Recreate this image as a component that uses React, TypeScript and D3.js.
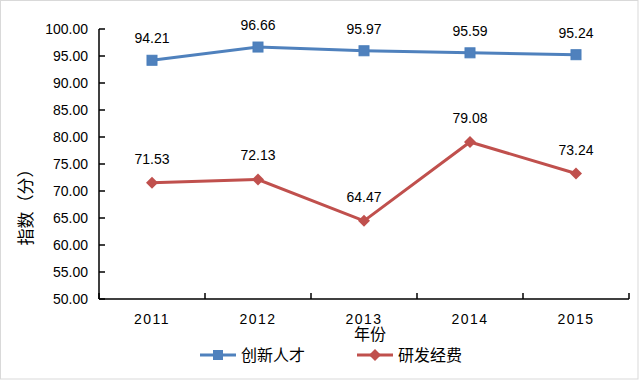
import React from "react";
import * as d3 from "d3";

const years = ["2011", "2012", "2013", "2014", "2015"];
const talent = [94.21, 96.66, 95.97, 95.59, 95.24];
const rnd = [71.53, 72.13, 64.47, 79.08, 73.24];
const yTicks = [50, 55, 60, 65, 70, 75, 80, 85, 90, 95, 100];
const seriesNames = ["创新人才", "研发经费"];

const W = 639, H = 380;
const left = 99, right = 629, top = 29, bottom = 299;
const font = "'Liberation Sans', Arial, 'Noto Sans CJK SC', sans-serif";
const cjk = "'Noto Sans CJK SC', 'Liberation Sans', sans-serif";
const blue = "#4F81BD", red = "#C0504D";

export default function App() {
  const x = d3.scaleBand<string>().domain(years).range([left, right]);
  const y = d3.scaleLinear().domain([50, 100]).range([bottom, top]);
  const cx = (d: string) => (x(d) as number) + x.bandwidth() / 2;
  const line = d3.line<number>().x((_, i) => cx(years[i])).y((v) => y(v));
  const boundaries = years.map((d) => x(d) as number).concat([right]);

  return (
    <svg width={W} height={H} style={{ position: "absolute", left: 0, top: 0, background: "#fff" }}>
      <rect x={0.5} y={0.5} width={W - 1.5} height={H - 1.5} fill="#fff" stroke="#d9d9d9" />
      {/* y axis */}
      <line x1={left} x2={left} y1={top} y2={bottom} stroke="#000" strokeWidth={1.5} />
      {yTicks.map((t) => (
        <g key={t}>
          <line x1={left} x2={left + 6} y1={y(t)} y2={y(t)} stroke="#000" strokeWidth={1.5} />
          <text x={left - 11} y={y(t)} dy="0.35em" textAnchor="end" fontFamily={font} fontSize={14} fill="#000">
            {t.toFixed(2)}
          </text>
        </g>
      ))}
      {/* x axis */}
      <line x1={left} x2={right} y1={bottom} y2={bottom} stroke="#000" strokeWidth={1.5} />
      {boundaries.map((b, i) => (
        <line key={i} x1={b} x2={b} y1={bottom} y2={bottom - 6} stroke="#000" strokeWidth={1.5} />
      ))}
      {years.map((d) => (
        <text key={d} x={cx(d)} y={324} textAnchor="middle" fontFamily={font} fontSize={14} letterSpacing={1.5} fill="#000">
          {d}
        </text>
      ))}
      <text x={370} y={340} textAnchor="middle" fontFamily={cjk} fontSize={16} fill="#000">年份</text>
      <text transform={`translate(32,203) rotate(-90)`} textAnchor="middle" fontFamily={cjk} fontSize={17} fill="#000">
        指数（分）
      </text>
      {/* series */}
      <path d={line(talent) || ""} fill="none" stroke={blue} strokeWidth={3} />
      <path d={line(rnd) || ""} fill="none" stroke={red} strokeWidth={3} />
      {talent.map((v, i) => (
        <g key={"t" + i}>
          <rect x={cx(years[i]) - 5} y={y(v) - 5} width={10} height={10} fill={blue} stroke="#4a7ebb" />
          <text x={cx(years[i])} y={y(v) - 17} textAnchor="middle" fontFamily={font} fontSize={14} fill="#000">
            {v.toFixed(2)}
          </text>
        </g>
      ))}
      {rnd.map((v, i) => (
        <g key={"r" + i}>
          <path d={`M${cx(years[i])},${y(v) - 6}L${cx(years[i]) + 6},${y(v)}L${cx(years[i])},${y(v) + 6}L${cx(years[i]) - 6},${y(v)}Z`} fill={red} />
          <text x={cx(years[i])} y={y(v) - 19} textAnchor="middle" fontFamily={font} fontSize={14} fill="#000">
            {v.toFixed(2)}
          </text>
        </g>
      ))}
      {/* legend */}
      <line x1={200} x2={236} y1={355} y2={355} stroke={blue} strokeWidth={3} />
      <rect x={213} y={350} width={10} height={10} fill={blue} />
      <text x={241} y={355} dy="0.35em" fontFamily={cjk} fontSize={16} fill="#000">{seriesNames[0]}</text>
      <line x1={357} x2={393} y1={355} y2={355} stroke={red} strokeWidth={3} />
      <path d="M375,349L381,355L375,361L369,355Z" fill={red} />
      <text x={398} y={355} dy="0.35em" fontFamily={cjk} fontSize={16} fill="#000">{seriesNames[1]}</text>
    </svg>
  );
}
